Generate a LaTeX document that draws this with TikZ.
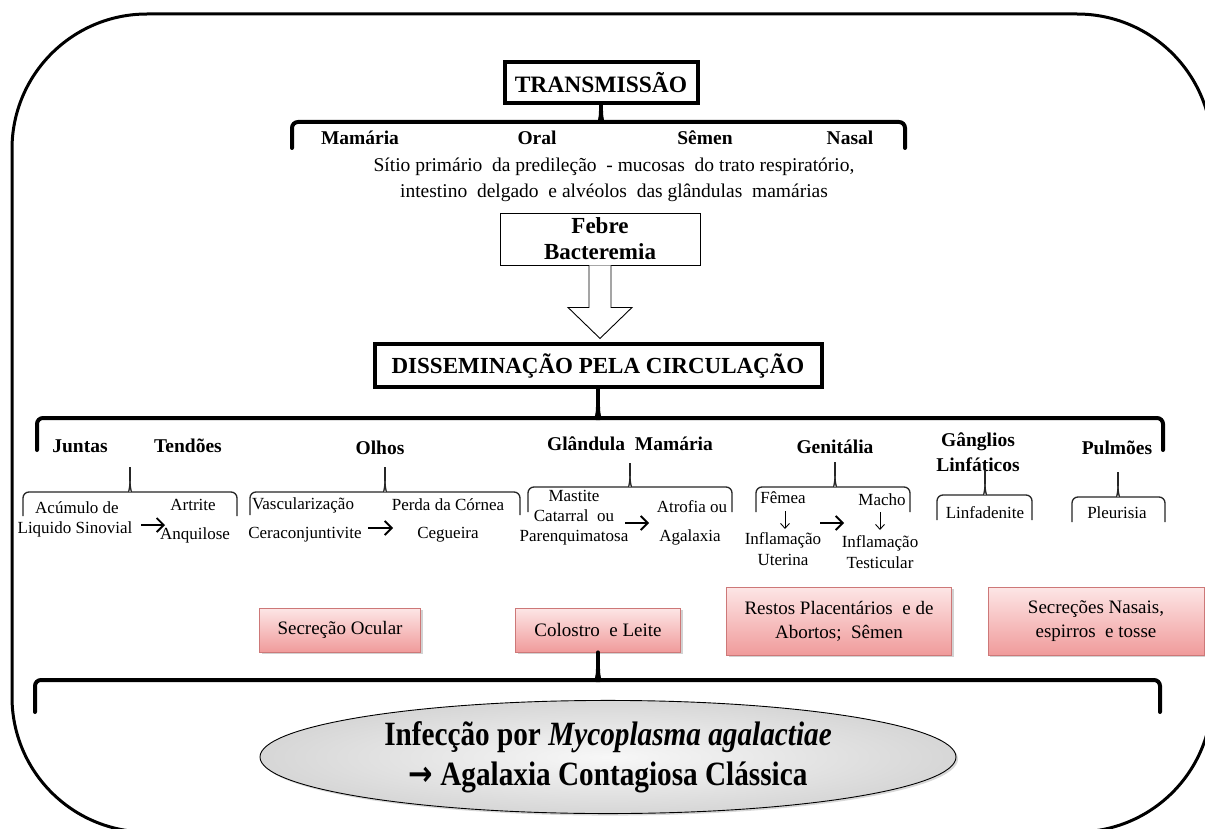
\documentclass[tikz,border=0pt]{standalone}
\usepackage{fontspec}
\setmainfont{Liberation Serif}
\newfontfamily\arrowfont{DejaVu Sans}
\usetikzlibrary{shapes.geometric,shadows,calc,arrows.meta}
\definecolor{pinktop}{RGB}{253,230,230}
\definecolor{pinkbot}{RGB}{240,155,155}
\definecolor{pinkdraw}{RGB}{205,120,120}
\newcommand{\fsz}[2]{\fontsize{#1}{#2}\selectfont}
% brace: x1, x2, cx, y, yend, style
\newcommand{\bracepath}[6]{%
  \draw[#6] (#1,#5) [rounded corners=6pt] -- (#1,#4) -- ({#3-7},#4) [sharp corners] .. controls ({#3-2},#4) and (#3,{#4-3}) .. (#3,{#4-11});
  \draw[#6] (#2,#5) [rounded corners=6pt] -- (#2,#4) -- ({#3+7},#4) [sharp corners] .. controls ({#3+2},#4) and (#3,{#4-3}) .. (#3,{#4-11});
}
\tikzset{
  bigbox/.style={draw, line width=4, inner sep=0, font=\bfseries\fsz{23.5}{28}},
  lbl/.style={inner sep=0, font=\bfseries\fsz{19.5}{24}, align=center},
  sm/.style={inner sep=0, font=\fsz{17}{21}},
  thickbrace/.style={line width=4, line cap=round},
  thinbrace/.style={line width=1.3, draw=black!85},
  harr/.style={line width=1.8, -{Straight Barb[length=7pt,width=14pt]}},
  varr/.style={line width=0.9, -{Straight Barb[length=5pt,width=9pt]}},
  pinkbox/.style={draw=pinkdraw, line width=0.8, top color=pinktop, bottom color=pinkbot,
     drop shadow={shadow xshift=2pt, shadow yshift=-2pt, opacity=0.35},
     inner sep=0, align=center, font=\fsz{19}{24}},
}
\begin{document}
\begin{tikzpicture}[x=1pt,y=-1pt]
\useasboundingbox (0,0) rectangle (1205,829);
\clip (0,0) rectangle (1205,829);
\fill[white] (0,0) rectangle (1205,829);
% outer frame
\draw[line width=3, rounded corners=135pt] (12,14) rectangle (1212,832);

% TRANSMISSAO
\node[bigbox, minimum width=193, minimum height=41] (trans) at (601,83) {TRANSMISSÃO};
\bracepath{292}{905}{601}{122}{148}{thickbrace}
\draw[thickbrace] (601,111) -- (trans.south);
\node[lbl] (mam) at (360,138) {Mamária};
\node[lbl] (oral) at (537,138) {Oral};
\node[lbl] (semen) at (705,138) {Sêmen};
\node[lbl] (nasal) at (850,138) {Nasal};
\node[sm, align=center, font=\fsz{19.5}{26}] (sitio) at (614,180) {Sítio primário \ da predileção \ - mucosas \ do trato respiratório,\\intestino \ delgado \ e alvéolos \ das glândulas \ mamárias};

% Febre
\node[draw, line width=0.9, minimum width=200, minimum height=52, inner sep=0, align=center, font=\bfseries\fsz{23}{26}] (febre) at (600,239) {Febre\\Bacteremia};
\draw[line width=0.9, fill=white] ($(febre.south)+(-11,0)$) -- ++(0,42) -- ++(-21,0) -- ($(febre.south)+(0,73)$) -- ($(febre.south)+(32,42)$) -- ++(-21,0) -- ($(febre.south)+(11,0)$);

% Disseminacao
\node[bigbox, minimum width=447, minimum height=43, font=\bfseries\fsz{23}{28}] (diss) at (598,365.5) {DISSEMINAÇÃO PELA CIRCULAÇÃO};
\bracepath{37}{1163}{598}{418}{450}{thickbrace}
\draw[thickbrace] (598,407) -- (diss.south);

% Level 2 labels
\node[lbl] (juntas) at (80,446) {Juntas};
\node[lbl] (tendoes) at (188,446) {Tendões};
\node[lbl] (olhos) at (380,448) {Olhos};
\node[lbl] (glandula) at (630,444) {Glândula\ \ Mamária};
\node[lbl] (genit) at (835,447) {Genitália};
\node[lbl, font=\bfseries\fsz{19.5}{25}] (gang) at (978,452) {Gânglios\\Linfáticos};
\node[lbl] (pulm) at (1117,448) {Pulmões};

% small braces
\bracepath{23}{237}{130}{492}{516}{thinbrace}
\draw[thinbrace] (130,481) -- (130,467);
\bracepath{250}{520}{385}{492}{515}{thinbrace}
\draw[thinbrace] (385,481) -- (385,467);
\bracepath{528}{732}{630}{487}{512}{thinbrace}
\draw[thinbrace] (630,476) -- (630,463);
\bracepath{756}{910}{835}{487}{512}{thinbrace}
\draw[thinbrace] (835,476) -- (835,462);
\bracepath{937}{1032}{985}{495}{520}{thinbrace}
\draw[thinbrace] (985,484) -- (985,470);
\bracepath{1072}{1165}{1118}{497}{522}{thinbrace}
\draw[thinbrace] (1118,486) -- (1118,472);

% Juntas/Tendoes details
\node[sm] (acum) at (77,508) {Acúmulo de};
\node[sm] (liq) at (75,529) {Liquido Sinovial};
\node[sm] (artr) at (193,505) {Artrite};
\node[sm] (anq) at (195,535) {Anquilose};
\draw[harr] (141,525) -- (165,525);
% Olhos details
\node[sm] (vasc) at (303,505) {Vascularização};
\node[sm] (cera) at (305,535) {Ceraconjuntivite};
\node[sm] (perda) at (448,505) {Perda da Córnea};
\node[sm] (ceg) at (448,535) {Cegueira};
\draw[harr] (368,528) -- (393,528);
% Glandula details
\node[sm, align=center, font=\fsz{17}{20}] (mast) at (574,518) {Mastite\\Catarral \ ou\\Parenquimatosa};
\node[sm] (atro) at (692,507) {Atrofia ou};
\node[sm] (agal) at (690,537) {Agalaxia};
\draw[harr] (625,523) -- (649,523);
% Genitalia details
\node[sm] (femea) at (783,498) {Fêmea};
\node[sm, align=center, font=\fsz{17}{21}] (infu) at (783,549.5) {Inflamação\\Uterina};
\node[sm] (macho) at (882,500) {Macho};
\node[sm, align=center, font=\fsz{17}{21}] (inft) at (880,552) {Inflamação\\Testicular};
\draw[varr] (785,511) -- (785,529);
\draw[varr] (880,512) -- (880,530);
\draw[harr] (820,523) -- (844,523);
% Ganglios / Pulmoes
\node[sm] (linf) at (985,513) {Linfadenite};
\node[sm] (pleu) at (1117,513) {Pleurisia};

% pink boxes
\node[pinkbox, minimum width=161, minimum height=44] (ocular) at (340,630) {Secreção Ocular};
\node[pinkbox, minimum width=165, minimum height=44] (colostro) at (598,630) {Colostro \ e Leite};
\node[pinkbox, minimum width=225, minimum height=68] (restos) at (839,621) {Restos Placentários \ e de\\Abortos; \ Sêmen};
\node[pinkbox, minimum width=216, minimum height=68] (secrec) at (1096,621) {Secreções Nasais,\\espirros \ e tosse};

% bottom brace
\bracepath{35}{1160}{598}{680}{712}{thickbrace}
\draw[thickbrace] (598,669) -- (colostro.south);

% ellipse
\node[ellipse, draw, line width=0.9, minimum width=696, minimum height=112, inner color=gray!6, outer color=gray!32,
  drop shadow={shadow xshift=2pt, shadow yshift=-2pt, opacity=0.3},
  align=center, inner sep=0] (infec) at (608,757)
  {\scalebox{0.86}[1]{\bfseries\fsz{34}{40}\begin{tabular}{c}Infecção por \textit{Mycoplasma agalactiae}\\{\arrowfont →} Agalaxia Contagiosa Clássica\end{tabular}}};
\end{tikzpicture}
\end{document}
